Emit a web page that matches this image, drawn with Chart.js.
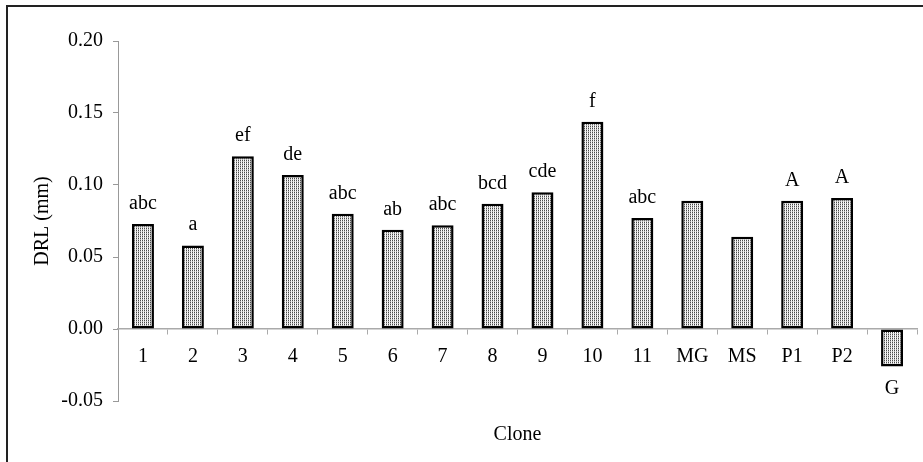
<!DOCTYPE html>
<html>
<head>
<meta charset="utf-8">
<script src="https://cdn.jsdelivr.net/npm/chart.js@4"></script>
<style>
  html, body { margin: 0; padding: 0; background: #fff; }
  #wrap { position: relative; width: 923px; height: 462px; overflow: hidden; background: #fff; }
  #frame { position: absolute; left: 6px; top: 5px; width: 1000px; height: 1000px;
           border-left: 2px solid #222; border-top: 2px solid #222; pointer-events: none; }
  canvas { display: block; }
</style>
</head>
<body>
<div id="wrap">
  <canvas id="c" width="923" height="462"></canvas>
  <div id="frame"></div>
</div>
<script>
// ---- data ----
const categories = ['1', '2', '3', '4', '5', '6', '7', '8', '9', '10', '11', 'MG', 'MS', 'P1', 'P2', 'G'];
const drlValues = [0.073, 0.058, 0.120, 0.107, 0.080, 0.069, 0.072, 0.087, 0.095, 0.144, 0.077, 0.089, 0.064, 0.089, 0.091, -0.026];
const groupLetters = ['abc', 'a', 'ef', 'de', 'abc', 'ab', 'abc', 'bcd', 'cde', 'f', 'abc', '', '', 'A', 'A', ''];
const yTickMin = -0.05, yTickMax = 0.20, yTickStep = 0.05;
const yTitle = 'DRL (mm)';
const xTitle = 'Clone';

const FONT = '"Liberation Serif", "Times New Roman", serif';

// dotted fill pattern
function makePattern() {
  const p = document.createElement('canvas');
  p.width = 2; p.height = 2;
  const g = p.getContext('2d');
  g.fillStyle = '#4a4a4a'; g.fillRect(0, 0, 1, 1);
  g.fillStyle = '#ffffff'; g.fillRect(1, 0, 1, 1);
  g.fillStyle = '#b8b8b8'; g.fillRect(0, 1, 1, 1);
  g.fillStyle = '#eeeeee'; g.fillRect(1, 1, 1, 1);
  return g.createPattern(p, 'repeat');
}

// labels for x axis: negative bars get their label pushed below
const xLabels = categories.map((c, i) => drlValues[i] < 0 ? ['', c] : c);

const letterPlugin = {
  id: 'letters',
  afterDatasetsDraw(chart) {
    const ctx = chart.ctx;
    const meta = chart.getDatasetMeta(0);
    ctx.save();
    ctx.font = '20px ' + FONT;
    ctx.fillStyle = '#000';
    ctx.textAlign = 'center';
    ctx.textBaseline = 'alphabetic';
    meta.data.forEach((bar, i) => {
      const t = groupLetters[i];
      if (!t) return;
      ctx.fillText(t, bar.x, bar.y - 15);
    });
    ctx.restore();
  }
};

new Chart(document.getElementById('c'), {
  type: 'bar',
  data: {
    labels: xLabels,
    datasets: [{
      data: drlValues,
      xAxisID: 'x',
      yAxisID: 'y',
      backgroundColor: makePattern(),
      borderColor: '#000',
      borderWidth: 2.5,
      borderSkipped: false,
      barPercentage: 0.44,
      categoryPercentage: 1.0
    }]
  },
  options: {
    responsive: false,
    animation: false,
    devicePixelRatio: 1,
    layout: { padding: { left: 31, top: 41, right: 6, bottom: 0 } },
    plugins: { legend: { display: false }, tooltip: { enabled: false } },
    scales: {
      y: {
        position: 'left',
        min: yTickMin,
        max: yTickMax,
        afterFit(s) { s.width = 87; },
        ticks: {
          stepSize: yTickStep,
          padding: 10,
          color: '#000',
          font: { family: FONT, size: 20 },
          callback: v => Number(v).toFixed(2)
        },
        grid: { drawOnChartArea: false, tickLength: 5, color: '#999', lineWidth: 1 },
        border: { color: '#999', width: 1 },
        title: { display: true, text: yTitle, color: '#000', font: { family: FONT, size: 20 }, padding: { top: 0, bottom: 6 } }
      },
      x: {
        type: 'category',
        position: { y: 0 },
        offset: true,
        ticks: {
          padding: 7,
          color: '#000',
          maxRotation: 0,
          autoSkip: false,
          font: { family: FONT, size: 20, lineHeight: 1.6 }
        },
        grid: { offset: true, drawOnChartArea: false, tickLength: 5, color: '#aaa', lineWidth: 1 },
        border: { color: '#aaa', width: 1.5 },
        title: { display: false }
      },
      x2: {
        type: 'category',
        position: 'bottom',
        offset: true,
        afterFit(s) { s.height = 61; },
        ticks: { display: false },
        grid: { display: false, drawTicks: false },
        border: { display: false },
        title: { display: true, text: xTitle, color: '#000', font: { family: FONT, size: 20 }, padding: { top: 0, bottom: 15 } }
      }
    }
  },
  plugins: [letterPlugin]
});
</script>
</body>
</html>
